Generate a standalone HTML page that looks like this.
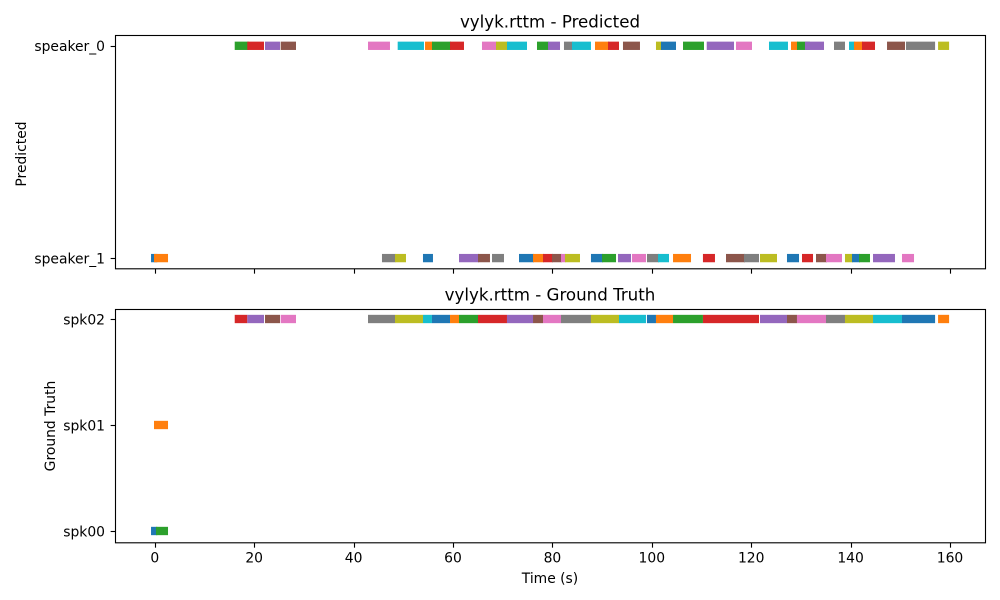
<!DOCTYPE html>
<html>
<head>
<meta charset="utf-8">
<style>
html,body{margin:0;padding:0;background:#fff;width:1000px;height:600px;overflow:hidden}
svg{display:block}
text{font-family:"DejaVu Sans","Liberation Sans",sans-serif;fill:#000}
</style>
</head>
<body>
<svg id="chart" width="1000" height="600" viewBox="0 0 1000 600" xmlns="http://www.w3.org/2000/svg"></svg>
<script>
const xTicks = [0, 20, 40, 60, 80, 100, 120, 140, 160];
const predictedCategories = ['speaker_0', 'speaker_1'];
const groundTruthCategories = ['spk02', 'spk01', 'spk00'];
const palette = ['#1f77b4', '#ff7f0e', '#2ca02c', '#d62728', '#9467bd', '#8c564b', '#e377c2', '#7f7f7f', '#bcbd22', '#17becf'];

const predictedSpeakers = [1,1,0,0,0,0,0,1,1,0,1,0,0,0,1,1,0,1,0,0,1,1,0,1,0,1,1,0,1,0,1,0,1,0,1,0,1,1,0,1,0,1,0,1,0,1,0,1,1,0,1,0,0,1,0,1,1,0,1,0,1,0,1,0,1,0,1,0,0];
const predictedStarts = [-0.76,-0.16,16.08,18.61,22.17,25.33,42.90,45.71,48.33,48.87,53.96,54.37,55.77,59.40,61.21,65.03,65.83,67.85,68.65,70.86,73.28,76.10,76.90,78.11,79.12,79.92,81.73,82.33,82.53,83.94,87.76,88.57,89.98,91.19,93.20,94.20,96.02,99.03,100.84,101.25,101.85,104.27,106.28,110.29,111.05,114.93,116.94,118.55,121.77,123.58,127.20,128.01,129.21,130.22,130.82,133.04,135.05,136.66,138.87,139.68,140.28,140.68,141.69,142.29,144.51,147.33,150.34,151.15,157.60];
const predictedEnds = [0.5,2.66,18.9,21.97,25.19,28.41,47.32,48.43,50.54,54.16,55.97,55.97,59.6,62.21,65.23,67.44,68.85,70.26,71.06,74.89,76.3,78.3,79.3,80.1,81.53,81.9,82.7,84.1,85.55,87.76,90.2,91.4,92.80,93.40,95.82,97.62,98.83,101.45,102.05,103.46,104.87,107.89,110.50,112.71,116.54,118.75,120.16,121.57,125.19,127.40,129.62,129.41,131.8,132.44,134.65,135.25,138.27,138.87,140.48,140.88,141.89,142.49,143.90,144.91,148.93,150.95,152.76,157.00,159.82];

const groundTruthSpeakers = [2,1,2,0,0,0,0,0,0,0,0,0,0,0,0,0,0,0,0,0,0,0,0,0,0,0,0,0,0,0,0,0];
const groundTruthStarts = [-0.76,-0.16,0.24,16.08,18.61,22.17,25.33,42.90,48.33,53.96,55.77,59.40,61.21,65.03,70.86,76.10,78.11,81.73,87.76,93.40,99.03,100.84,104.27,110.29,121.77,127.20,129.21,135.05,138.87,144.51,150.34,157.60];
const groundTruthEnds = [0.5,2.66,2.66,18.61,21.97,25.19,28.41,48.33,53.96,55.77,59.40,61.21,65.03,70.86,76.10,78.11,81.73,87.76,93.40,98.83,100.84,104.27,110.29,121.57,127.20,129.21,135.05,138.87,144.51,150.34,157.00,159.82];

const NS = 'http://www.w3.org/2000/svg';
const svg = document.getElementById('chart');
const LEFT = 115.5, RIGHT = 985.5;
const xScale = t => 154.8 + t * 4.97;

function node(tag, attrs, parent, text) {
  const el = document.createElementNS(NS, tag);
  for (const k in attrs) el.setAttribute(k, attrs[k]);
  if (text !== undefined) el.textContent = text;
  parent.appendChild(el);
  return el;
}

function drawPanel(panel) {
  const g = node('g', {}, svg);
  
  

  const yScale = i => panel.yFirst + i * panel.yStep;

  panel.speakers.forEach((speaker, i) => {
    const x0 = xScale(panel.starts[i]);
    const x1 = xScale(panel.ends[i]);
    const bar = node('rect', {
      x: x0, y: yScale(speaker) - 4.17, width: x1 - x0, height: 8.33,
      fill: palette[i % palette.length]
    }, g);
    
    
  });

  const frame = node('rect', {
    x: LEFT, y: panel.top, width: RIGHT - LEFT, height: panel.bottom - panel.top,
    fill: 'none', stroke: '#000', 'stroke-width': 1.11
  }, g);
  
  

  xTicks.forEach(t => {
    const tx = Math.round(xScale(t)) + 0.5;
    const tick = node('line', {
      x1: tx, x2: tx, y1: panel.bottom, y2: panel.bottom + 4.86,
      stroke: '#000', 'stroke-width': 1.11
    }, g);
    
    
    if (panel.showXLabels) {
      const label = node('text', {
        x: xScale(t), y: panel.bottom + 19.6, 'text-anchor': 'middle', 'font-size': 13.89
      }, g, String(t));
      
      
    }
  });

  panel.categories.forEach((cat, i) => {
    const ty = Math.round(yScale(i)) + 0.5;
    const tick = node('line', {
      x1: LEFT - 4.86, x2: LEFT, y1: ty, y2: ty, stroke: '#000', 'stroke-width': 1.11
    }, g);
    
    
    const label = node('text', {
      x: 105, y: yScale(i) + panel.labelDy, 'text-anchor': 'end', 'font-size': 13.89
    }, g, cat);
    
    
  });

  const title = node('text', {
    x: 550, y: panel.titleY, 'text-anchor': 'middle', 'font-size': 16.67
  }, g, panel.title);
  
  

  const yTitle = node('text', {
    x: panel.yTitleX, y: panel.yTitleY, 'text-anchor': 'middle', 'font-size': 13.89,
    transform: 'rotate(-90 ' + panel.yTitleX + ' ' + panel.yTitleY + ')'
  }, g, panel.yTitle);
  
  
}

drawPanel({
  name: 'predicted-panel', title: 'vylyk.rttm - Predicted', yTitle: 'Predicted',
  top: 35.5, bottom: 268.8, yFirst: 45.8, yStep: 212.3, yTitleX: 26, yTitleY: 154,
  titleY: 27.5, labelDy: 5.2,
  categories: predictedCategories, speakers: predictedSpeakers,
  starts: predictedStarts, ends: predictedEnds, showXLabels: false
});
drawPanel({
  name: 'ground-truth-panel', title: 'vylyk.rttm - Ground Truth', yTitle: 'Ground Truth',
  top: 309.5, bottom: 542.8, yFirst: 319, yStep: 106, yTitleX: 55, yTitleY: 426,
  titleY: 300.6, labelDy: 5.6,
  categories: groundTruthCategories, speakers: groundTruthSpeakers,
  starts: groundTruthStarts, ends: groundTruthEnds, showXLabels: true
});

const xTitle = node('text', { x: 550, y: 583, 'text-anchor': 'middle', 'font-size': 13.89 }, svg, 'Time (s)');


</script>
</body>
</html>
